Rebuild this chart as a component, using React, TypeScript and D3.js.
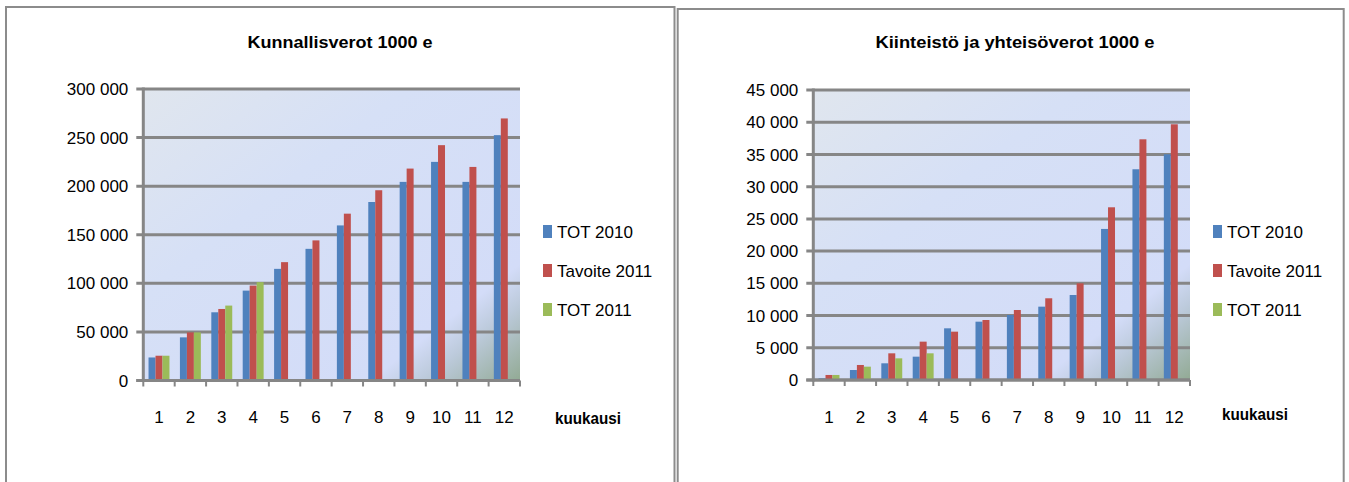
import React from "react";
import * as d3 from "d3";

const months = ["1", "2", "3", "4", "5", "6", "7", "8", "9", "10", "11", "12"];
const seriesNames = ["TOT 2010", "Tavoite 2011", "TOT 2011"];
const seriesColors = ["#4f81bd", "#c0504d", "#9bbb59"];

const kunTot2010 = [23700, 44400, 70200, 92500, 114900, 135500, 159600, 183700, 204400, 225000, 204400, 252500];
const kunTavoite2011 = [25500, 49500, 73600, 97700, 121800, 144200, 171700, 195800, 218100, 242200, 219800, 269700];
const kunTot2011 = [25500, 49500, 77100, 101200, null, null, null, null, null, null, null, null];
const kunTicks = [0, 50000, 100000, 150000, 200000, 250000, 300000];

const kiiTot2010 = [260, 1550, 2590, 3620, 8020, 9050, 10090, 11380, 13190, 23440, 32700, 35020];
const kiiTavoite2011 = [780, 2330, 4140, 5950, 7500, 9310, 10860, 12680, 15000, 26800, 37350, 39680];
const kiiTot2011 = [780, 2070, 3360, 4140, null, null, null, null, null, null, null, null];
const kiiTicks = [0, 5000, 10000, 15000, 20000, 25000, 30000, 35000, 40000, 45000];

const fmt = (v: number) => d3.format(",")(v).replace(/,/g, " ");
const FONT = "'Liberation Sans', Arial, sans-serif";
const GRID = "#868686";

type ChartProps = {
  id: string;
  frame: [number, number, number];
  title: string;
  titleX: number;
  titleLen: number;
  plot: [number, number, number, number];
  ticks: number[];
  series: (number | null)[][];
  legendX: number;
  axisLabelX: number;
  axisLabelY: number;
};

function Chart(p: ChartProps) {
  const [x0, x1, yT, yB] = p.plot;
  const x = d3.scaleBand<string>().domain(months).range([x0, x1]).padding(0);
  const xs = d3
    .scaleBand<string>()
    .domain(seriesNames)
    .range([0, x.bandwidth()])
    .paddingInner(0)
    .paddingOuter(0.75);
  const y = d3.scaleLinear().domain([0, d3.max(p.ticks) as number]).range([yB, yT]);
  const [fx0, fy0, fx1] = p.frame;
  const boundaries = months.map((m) => x(m) as number).concat([x1]);
  return (
    <g>
      <defs>
        <linearGradient id={p.id + "bg"} x1="0" y1="0" x2="1" y2="1">
          <stop offset="0" stopColor="#e0e6ee" />
          <stop offset="0.35" stopColor="#d6e0f6" />
          <stop offset="0.8" stopColor="#d3dcf8" />
          <stop offset="0.87" stopColor="#bccadb" />
          <stop offset="1" stopColor="#92aa94" />
        </linearGradient>
      </defs>
      <path
        d={`M${fx0},484 L${fx0},${fy0} L${fx1},${fy0} L${fx1},484`}
        fill="#fff"
        stroke="#8c8c8c"
        strokeWidth={2}
      />
      <text
        x={p.titleX}
        y={48}
        textAnchor="middle"
        fontFamily={FONT}
        fontWeight="bold"
        fontSize={17}
        textLength={p.titleLen}
        lengthAdjust="spacingAndGlyphs"
      >
        {p.title}
      </text>
      <rect x={x0} y={yT} width={x1 - x0} height={yB - yT} fill={`url(#${p.id}bg)`} />
      {p.ticks.map((t) => (
        <g key={t}>
          <line x1={x0 - 7} x2={x1} y1={y(t)} y2={y(t)} stroke={GRID} strokeWidth={3} />
          <text
            x={x0 - 15}
            y={y(t)}
            dy="0.36em"
            textAnchor="end"
            fontFamily={FONT}
            fontSize={17}
            fill="#000"
          >
            {fmt(t)}
          </text>
        </g>
      ))}
      {p.series.map((vals, si) =>
        vals.map((v, i) =>
          v == null ? null : (
            <rect
              key={si + "-" + i}
              x={(x(months[i]) as number) + (xs(seriesNames[si]) as number)}
              y={y(v)}
              width={xs.bandwidth()}
              height={yB - y(v)}
              fill={seriesColors[si]}
            />
          )
        )
      )}
      <line x1={x0} x2={x0} y1={yT - 1.5} y2={yB + 1.5} stroke={GRID} strokeWidth={3} />
      <line x1={x0 - 7} x2={x1} y1={yB} y2={yB} stroke={GRID} strokeWidth={3} />
      {boundaries.map((b, i) => (
        <line key={i} x1={b} x2={b} y1={yB} y2={yB + 6} stroke={GRID} strokeWidth={2} />
      ))}
      {months.map((m) => (
        <text
          key={m}
          x={(x(m) as number) + x.bandwidth() / 2}
          y={423}
          textAnchor="middle"
          fontFamily={FONT}
          fontSize={17}
        >
          {m}
        </text>
      ))}
      <text
        x={p.axisLabelX}
        y={p.axisLabelY}
        fontFamily={FONT}
        fontWeight="bold"
        fontSize={16}
        textLength={66}
        lengthAdjust="spacingAndGlyphs"
      >
        kuukausi
      </text>
      {seriesNames.map((s, i) => (
        <g key={s}>
          <rect x={p.legendX} y={225 + i * 39} width={9} height={13} fill={seriesColors[i]} />
          <text x={p.legendX + 14} y={238 + i * 39} fontFamily={FONT} fontSize={17}>
            {s}
          </text>
        </g>
      ))}
    </g>
  );
}

export default function App() {
  return (
    <svg
      width={1349}
      height={482}
      style={{ position: "absolute", left: 0, top: 0, background: "#fff" }}
    >
      <Chart
        id="k"
        frame={[6, 7, 674.5]}
        title="Kunnallisverot 1000 e"
        titleX={340}
        titleLen={185}
        plot={[143.3, 520, 89, 380.5]}
        ticks={kunTicks}
        series={[kunTot2010, kunTavoite2011, kunTot2011]}
        legendX={543}
        axisLabelX={555}
        axisLabelY={424}
      />
      <Chart
        id="i"
        frame={[677.7, 9, 1343.7]}
        title="Kiinteistö ja yhteisöverot 1000 e"
        titleX={1015}
        titleLen={279}
        plot={[813.3, 1190, 90, 380]}
        ticks={kiiTicks}
        series={[kiiTot2010, kiiTavoite2011, kiiTot2011]}
        legendX={1213}
        axisLabelX={1222}
        axisLabelY={420}
      />
    </svg>
  );
}
